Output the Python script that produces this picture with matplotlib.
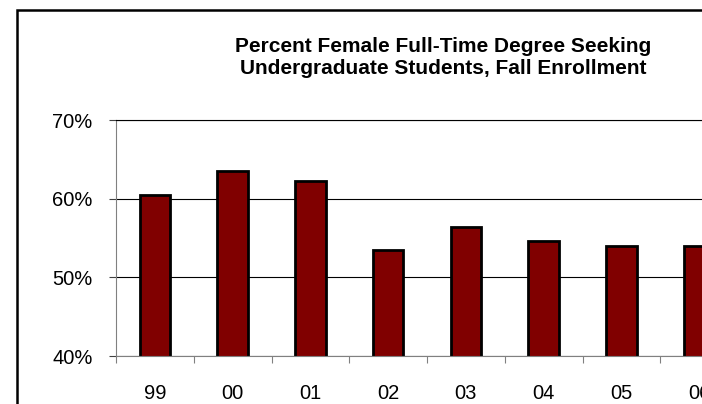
import matplotlib.pyplot as plt
import matplotlib.patches as patches
from matplotlib.ticker import FuncFormatter

years = ['99', '00', '01', '02', '03', '04', '05', '06']
pct_female = [60.5, 63.5, 62.3, 53.5, 56.4, 54.6, 54.0, 54.0]
title_lines = ['Percent Female Full-Time Degree Seeking',
               'Undergraduate Students, Fall Enrollment']

W, H = 702, 404
plt.rcParams['font.family'] = ['Liberation Sans', 'DejaVu Sans']

fig = plt.figure(figsize=(W / 100, H / 100), dpi=100)
fig.patch.set_facecolor('white')

# plot area runs past the right edge of the picture, like the cropped original
ax = fig.add_axes([116 / W, 1 - 356 / H, 622 / W, 236 / H])

x = list(range(len(years)))
ax.bar(x, pct_female, width=0.39, color='#800000', edgecolor='black',
       linewidth=2.0, zorder=2)

ax.set_xlim(-0.5, len(years) - 0.5)
ax.set_ylim(40, 70)
ax.set_yticks([40, 50, 60, 70])
ax.yaxis.set_major_formatter(FuncFormatter(lambda v, p: '%d%%' % v))
ax.yaxis.grid(True, color='black', linewidth=0.8)
ax.set_axisbelow(True)

ax.set_xticks(x)
ax.set_xticklabels(years)
ax.set_xticks([i - 0.5 for i in range(len(years) + 1)], minor=True)
ax.tick_params(axis='x', which='major', length=0, pad=20.5, labelsize=14.5)
ax.tick_params(axis='x', which='minor', length=5, width=0.8, color='#808080',
               direction='out')
ax.tick_params(axis='y', length=5, width=0.8, color='#404040', pad=12,
               labelsize=14.5)

for side in ['left', 'bottom']:
    ax.spines[side].set_color('#808080')
    ax.spines[side].set_linewidth(0.8)
ax.spines['top'].set_color('black')
ax.spines['top'].set_linewidth(0.8)
ax.spines['right'].set_visible(False)

# title, two lines
fig.text(443 / W, 1 - 52 / H, title_lines[0], ha='center', va='baseline',
         fontsize=15, fontweight='bold')
fig.text(443 / W, 1 - 74 / H, title_lines[1], ha='center', va='baseline',
         fontsize=15, fontweight='bold')

# outer chart border, cut off at right and bottom
frame = patches.Rectangle((16.5 / W, -0.5), 2.0, 1.5 - 9.5 / H, fill=False,
                          edgecolor='black', linewidth=1.8,
                          transform=fig.transFigure, clip_on=False)
fig.patches.append(frame)

fig.savefig('out.png', dpi=100)
